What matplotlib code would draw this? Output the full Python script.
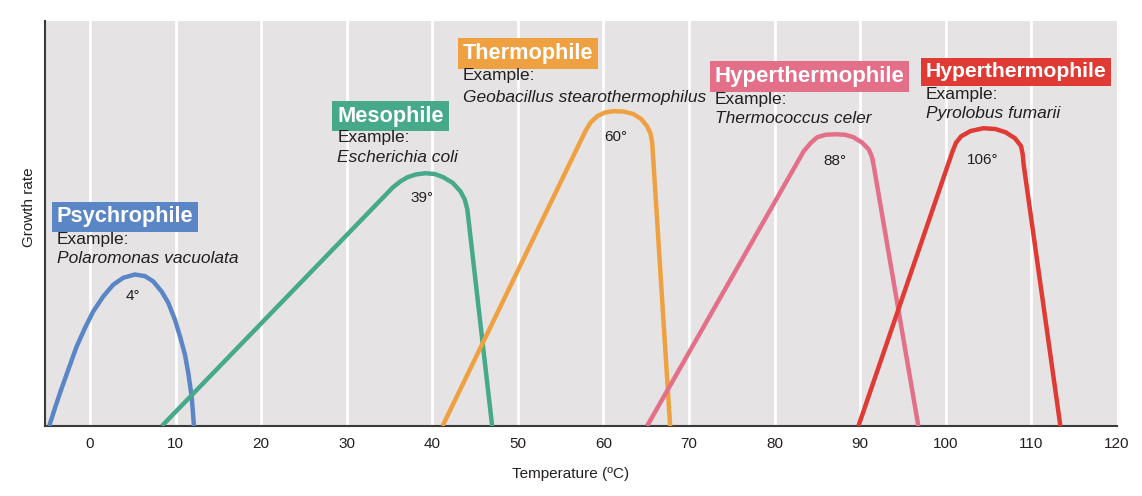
import matplotlib
matplotlib.use('Agg')
import matplotlib.pyplot as plt

plt.rcParams['font.family'] = ['Liberation Sans', 'DejaVu Sans']

# growth curves (temperature in C, growth rate in % of axis height)
psychro_x = [-4.76, -4.09, -3.51, -2.53, -1.56, -0.58, 0.39, 1.56, 2.73, 3.9, 5.26,
             6.43, 7.4, 8.38, 9.16, 9.94, 10.53, 11.11, 11.5, 11.89, 12.16]
psychro_y = [0, 4.4, 8.1, 13.9, 19.6, 24.2, 28.3, 32.0, 34.9, 36.6, 37.4,
             37.0, 35.7, 33.2, 30.4, 26.2, 22.1, 17.6, 13.0, 7.3, 0]

meso_x = [8.4, 35.4, 36.3, 37.1, 38.1, 39.2, 40.3, 41.3, 42.4, 43.3, 43.8, 44.1, 47.0]
meso_y = [0, 58.9, 60.4, 61.4, 62.1, 62.4, 62.2, 61.4, 60.0, 57.9, 55.9, 53.5, 0]

thermo_x = [41.2, 57.9, 58.5, 59.3, 60.2, 61.2, 62.4, 63.5, 64.4, 65.1, 65.5, 65.7, 67.8]
thermo_y = [0, 72.8, 74.9, 76.5, 77.4, 77.7, 77.6, 77.0, 75.8, 74.0, 72.2, 70.0, 0]

hyper1_x = [65.1, 83.4, 84.2, 85.0, 86.0, 87.1, 88.2, 89.2, 90.2, 91.0, 91.4, 91.6, 96.8]
hyper1_y = [0, 67.8, 69.8, 71.3, 71.9, 72.0, 71.9, 71.3, 70.0, 68.3, 66.3, 64.1, 0]

hyper2_x = [89.8, 100.8, 101.2, 101.8, 102.9, 104.4, 105.8, 107.0, 108.1, 108.8, 109.0, 109.1, 113.4]
hyper2_y = [0, 67.8, 69.9, 71.5, 72.8, 73.5, 73.3, 72.5, 71.0, 69.1, 67.0, 64.6, 0]

curves = [(psychro_x, psychro_y), (meso_x, meso_y), (thermo_x, thermo_y),
          (hyper1_x, hyper1_y), (hyper2_x, hyper2_y)]
colors = ['#5b86c6', '#45a98a', '#efa141', '#e36f89', '#df3a33']

names = ['Psychrophile', 'Mesophile', 'Thermophile', 'Hyperthermophile', 'Hyperthermophile']
species = ['Polaromonas vacuolata', 'Escherichia coli', 'Geobacillus stearothermophilus',
           'Thermococcus celer', 'Pyrolobus fumarii']
optima = ['4°', '39°', '60°', '88°', '106°']

# label anchors: (x of left edge, y of title, y of "Example:", y of species)
label_x = [-3.86, 28.9, 43.6, 73.0, 97.7]
title_y = [51.6, 76.5, 92.0, 86.3, 87.4]
example_y = [46.0, 71.3, 86.4, 80.7, 81.9]
species_y = [41.3, 66.3, 81.2, 76.0, 77.2]
title_size = [15.7, 15.7, 15.7, 16.0, 15.2]
optimum_x = [5.0, 38.8, 61.4, 87.1, 104.3]
optimum_y = [32.2, 56.2, 71.3, 65.3, 65.6]

xticks = [0, 10, 20, 30, 40, 50, 60, 70, 80, 90, 100, 110, 120]

fig = plt.figure(figsize=(11.42, 4.96), dpi=100)
ax = fig.add_axes([0.0394, 0.141, 0.9386, 0.817])
ax.set_facecolor('#e5e3e4')

for t in xticks[:-1]:
    ax.axvline(t, color='white', lw=2.0, zorder=1)

for (cx, cy), c in zip(curves, colors):
    ax.plot(cx, cy, color=c, lw=3.2, solid_joinstyle='round',
            solid_capstyle='butt', zorder=3)

txt = '#231f20'
for i in range(5):
    ax.text(label_x[i], title_y[i], names[i], color='white', fontsize=title_size[i],
            fontweight='bold', ha='left', va='center', zorder=5,
            bbox=dict(boxstyle='square,pad=0.22', fc=colors[i], ec='none'))
    ax.text(label_x[i], example_y[i], 'Example:', color=txt, fontsize=12.5,
            ha='left', va='center', zorder=5)
    ax.text(label_x[i], species_y[i], species[i], color=txt, fontsize=12.5,
            style='italic', ha='left', va='center', zorder=5)
    ax.text(optimum_x[i], optimum_y[i], optima[i], color=txt, fontsize=11,
            ha='center', va='center', zorder=5)

ax.set_xlim(-5.25, 120)
ax.set_ylim(0, 100)
ax.set_xticks(xticks)
ax.set_yticks([])
ax.tick_params(axis='x', length=0, pad=8, labelsize=11, labelcolor=txt)
for s in ['top', 'right']:
    ax.spines[s].set_visible(False)
for s in ['left', 'bottom']:
    ax.spines[s].set_color('#3a3a3a')
    ax.spines[s].set_linewidth(1.5)

ax.set_xlabel('Temperature (ºC)', fontsize=11, color=txt)
ax.xaxis.set_label_coords(0.49, -0.10)
ax.set_ylabel('Growth rate', fontsize=11, color=txt)
ax.yaxis.set_label_coords(-0.008, 0.54)

fig.savefig('out.png', dpi=100)
